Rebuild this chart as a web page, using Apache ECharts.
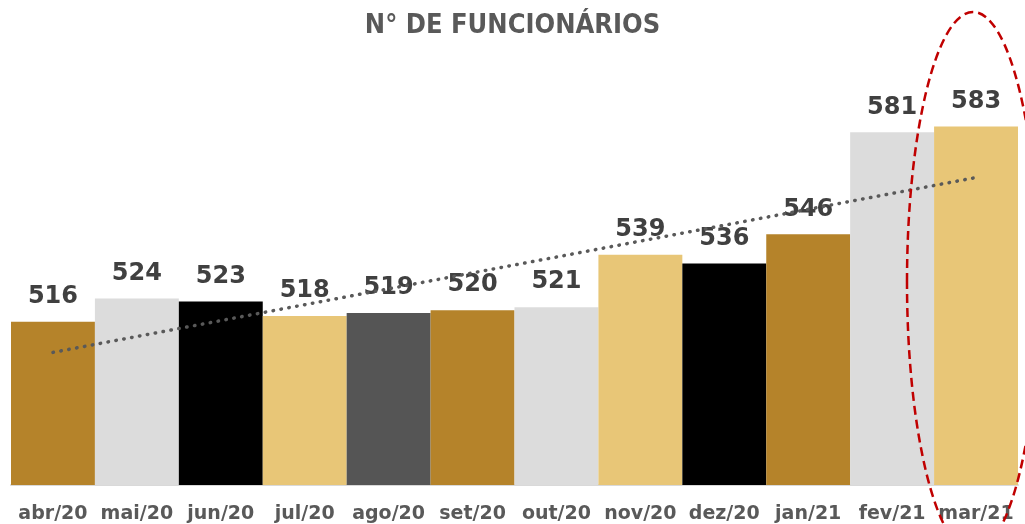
<!DOCTYPE html>
<html>
<head>
<meta charset="utf-8">
<script src="https://cdn.jsdelivr.net/npm/echarts@6/dist/echarts.min.js"></script>
<style>
	html, body { margin: 0; padding: 0; background: #fff; }
	#main { width: 1025px; height: 524px; }
</style>
</head>
<body>
<div id="main"></div>
<script>
// dados
var meses = ['abr/20', 'mai/20', 'jun/20', 'jul/20', 'ago/20', 'set/20', 'out/20', 'nov/20', 'dez/20', 'jan/21', 'fev/21', 'mar/21'];
var funcionarios = [516, 524, 523, 518, 519, 520, 521, 539, 536, 546, 581, 583];
var cores = ['#B5832A', '#DCDCDC', '#000000', '#E8C677', '#555555', '#B5832A', '#DCDCDC', '#E8C677', '#000000', '#B5832A', '#DCDCDC', '#E8C677'];
// linha de tendência: início e fim
var tendencia = [505.5, null, null, null, null, null, null, null, null, null, null, 565.5];

var myChart = echarts.init(document.getElementById('main'));

var barras = [];
for (var i = 0; i < funcionarios.length; i++) {
	barras.push({ value: funcionarios[i], itemStyle: { color: cores[i] } });
}

var option = {
	animation: false,
	backgroundColor: '#ffffff',
	title: {
		text: 'N° DE FUNCIONÁRIOS',
		left: 'center',
		top: 7,
		textStyle: {
			fontFamily: '"Liberation Sans Narrow", "DejaVu Sans Condensed", sans-serif',
			fontWeight: 'bold',
			fontSize: 27,
			color: '#595959'
		}
	},
	grid: {
		left: 11,
		right: 7,
		top: 77,
		bottom: 38,
		containLabel: false
	},
	xAxis: {
		type: 'category',
		data: meses,
		axisTick: { show: false },
		axisLine: { lineStyle: { color: '#D9D9D9', width: 2 } },
		axisLabel: {
			margin: 20,
			fontFamily: '"DejaVu Sans", sans-serif',
			fontWeight: 'bold',
			fontSize: 19,
			color: '#595959',
			interval: 0
		}
	},
	yAxis: {
		type: 'value',
		min: 460,
		max: 600,
		show: false,
		splitLine: { show: false }
	},
	series: [{
		name: 'Nº de funcionários',
		type: 'bar',
		barCategoryGap: '0%',
		data: barras,
		label: {
			show: true,
			position: 'top',
			distance: 13,
			fontFamily: '"DejaVu Sans", sans-serif',
			fontWeight: 'bold',
			fontSize: 24,
			color: '#404040'
		}
	}, {
		name: 'tendência',
		type: 'line',
		data: tendencia,
		connectNulls: true,
		symbol: 'none',
		z: 10,
		lineStyle: {
			color: '#595959',
			width: 3.5,
			type: [0.5, 7.5],
			cap: 'round'
		}
	}],
	graphic: [{
		type: 'ellipse',
		z: 100,
		shape: { cx: 973, cy: 282, rx: 66, ry: 270 },
		style: {
			fill: null,
			stroke: '#C00000',
			lineWidth: 2.5,
			lineDash: [9, 5]
		}
	}]
};
myChart.setOption(option);
</script>
</body>
</html>
